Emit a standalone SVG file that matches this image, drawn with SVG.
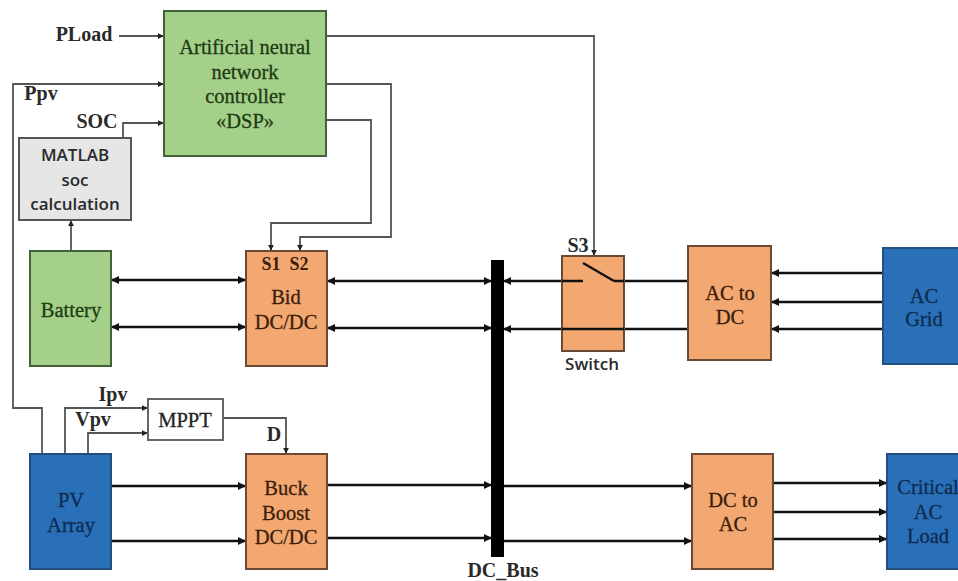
<svg xmlns="http://www.w3.org/2000/svg" width="958" height="581" viewBox="0 0 958 581">
<defs>
<marker id="a" viewBox="0 0 8 8" refX="7" refY="4" markerWidth="6" markerHeight="6" markerUnits="userSpaceOnUse" orient="auto-start-reverse"><path d="M0 0L8 4L0 8Z" fill="#222"/></marker>
<marker id="b" viewBox="0 0 8 8" refX="7" refY="4" markerWidth="8" markerHeight="8" markerUnits="userSpaceOnUse" orient="auto-start-reverse"><path d="M0 0L8 4L0 8Z" fill="#111"/></marker>
</defs>
<style>
text{font-family:"Liberation Serif",serif;text-anchor:middle;fill:#1c1c1c}
.n{font-size:20.5px;stroke-width:.3px}
.ng{fill:#1d3a12;stroke:#1d3a12}
.no{fill:#3a200c;stroke:#3a200c}
.nu{fill:#0d2c50;stroke:#0d2c50}
.nw{fill:#222;stroke:#222}
.l{font-size:20px;font-weight:bold;fill:#2a2a2a}
.s{font-family:"Open Sans","Liberation Sans",sans-serif;font-size:17px;font-weight:600;fill:#2a2a2a}
.g{fill:#a5d08a;stroke:#44613a;stroke-width:2}
.o{fill:#f4a871;stroke:#6b4a35;stroke-width:2}
.u{fill:#2a70b8;stroke:#24507f;stroke-width:2}
.t{fill:none;stroke:#555;stroke-width:1.8}
.k{fill:none;stroke:#111;stroke-width:2.6}
</style>
<g id="connectors">
<path class="t" d="M119 36H163" marker-end="url(#a)"/>
<path class="t" d="M42 454V408H13V84H163" marker-end="url(#a)"/>
<path class="t" d="M123 138V123H163" marker-end="url(#a)"/>
<path class="t" d="M71 251V221" marker-end="url(#a)"/>
<path class="t" d="M326 36H594V255" marker-end="url(#a)"/>
<path class="t" d="M326 84H391V237H300V250" marker-end="url(#a)"/>
<path class="t" d="M326 120H371V223H271V250" marker-end="url(#a)"/>
<path class="t" d="M65 454V408H147" marker-end="url(#a)"/>
<path class="t" d="M88 454V433H147" marker-end="url(#a)"/>
<path class="t" d="M223 418H286V453" marker-end="url(#a)"/>
<path class="k" d="M112 280H245" marker-start="url(#b)" marker-end="url(#b)"/>
<path class="k" d="M112 327H245" marker-start="url(#b)" marker-end="url(#b)"/>
<path class="k" d="M328 281H491" marker-start="url(#b)" marker-end="url(#b)"/>
<path class="k" d="M328 328H491" marker-start="url(#b)" marker-end="url(#b)"/>
<path class="k" d="M111 486H245" marker-end="url(#b)"/>
<path class="k" d="M111 541H245" marker-end="url(#b)"/>
<path class="k" d="M327 485H491" marker-end="url(#b)"/>
<path class="k" d="M327 538H491" marker-end="url(#b)"/>
<path class="k" d="M504 281H582" marker-start="url(#b)"/>
<path class="k" d="M606 281H688"/>
<path class="k" d="M504 329H688" marker-start="url(#b)"/>
<path class="k" d="M883 273H772" marker-end="url(#b)"/>
<path class="k" d="M883 302H772" marker-end="url(#b)"/>
<path class="k" d="M883 329H772" marker-end="url(#b)"/>
<path class="k" d="M504 486H691" marker-end="url(#b)"/>
<path class="k" d="M504 541H691" marker-end="url(#b)"/>
<path class="k" d="M773 483H886" marker-end="url(#b)"/>
<path class="k" d="M773 512H886" marker-end="url(#b)"/>
<path class="k" d="M773 539H886" marker-end="url(#b)"/>
</g>
<g id="controller"><rect class="g" x="164" y="11" width="162" height="145"/><g class="n ng"><text x="245" y="54" class="n ng">Artificial neural</text><text x="245" y="79" class="n ng">network</text><text x="245" y="103" class="n ng">controller</text><text x="245" y="128" class="n ng">«DSP»</text></g></g>
<g id="matlab"><rect x="19" y="138" width="112" height="82" fill="#e6e6e6" stroke="#555" stroke-width="2"/><text class="s" x="75" y="161">MATLAB</text><text class="s" x="75" y="186">soc</text><text class="s" x="75" y="210">calculation</text></g>
<g id="battery"><rect class="g" x="30" y="251" width="81" height="115"/><text class="n ng" x="71" y="317">Battery</text></g>
<g id="bid"><rect class="o" x="246" y="251" width="81" height="115"/><text class="l" x="285" y="270" style="font-size:18px;fill:#3a200c" xml:space="preserve">S1  S2</text><text class="n no" x="286" y="304">Bid</text><text class="n no" x="286" y="329">DC/DC</text></g>
<g id="pv"><rect class="u" x="30" y="454" width="81" height="115"/><text class="n nu" x="71" y="507">PV</text><text class="n nu" x="71" y="532">Array</text></g>
<g id="mppt"><rect x="148" y="399" width="75" height="41" fill="#fff" stroke="#666" stroke-width="2"/><text class="n nw" x="185" y="427">MPPT</text></g>
<g id="buck"><rect class="o" x="246" y="454" width="81" height="115"/><text class="n no" x="286" y="495">Buck</text><text class="n no" x="286" y="520">Boost</text><text class="n no" x="286" y="544">DC/DC</text></g>
<g id="bus"><rect x="491" y="260" width="13" height="297" fill="#000"/><text class="l" x="503" y="577">DC_Bus</text></g>
<g id="switch"><rect class="o" x="562" y="256" width="62" height="95"/><path d="M583 263L614 281" fill="none" stroke="#111" stroke-width="2.4"/><path class="k" d="M562 281H583M614 281H624M562 329H624"/><text class="s" x="592" y="370">Switch</text></g>
<g id="acdc"><rect class="o" x="688" y="246" width="83" height="114"/><text class="n no" x="730" y="300">AC to</text><text class="n no" x="730" y="324">DC</text></g>
<g id="grid"><rect class="u" x="883" y="248" width="76" height="116"/><text class="n nu" x="924" y="303">AC</text><text class="n nu" x="924" y="326">Grid</text></g>
<g id="dcac"><rect class="o" x="692" y="454" width="81" height="115"/><text class="n no" x="733" y="507">DC to</text><text class="n no" x="733" y="531">AC</text></g>
<g id="load"><rect class="u" x="887" y="454" width="72" height="115"/><text class="n nu" x="928" y="494">Critical</text><text class="n nu" x="928" y="519">AC</text><text class="n nu" x="928" y="543">Load</text></g>
<g id="labels">
<text class="l" x="84" y="41">PLoad</text>
<text class="l" x="41" y="100">Ppv</text>
<text class="l" x="97" y="128">SOC</text>
<text class="l" x="113" y="401">Ipv</text>
<text class="l" x="93" y="426">Vpv</text>
<text class="l" x="274" y="441">D</text>
<text class="l" x="578" y="252">S3</text>
</g>
</svg>
